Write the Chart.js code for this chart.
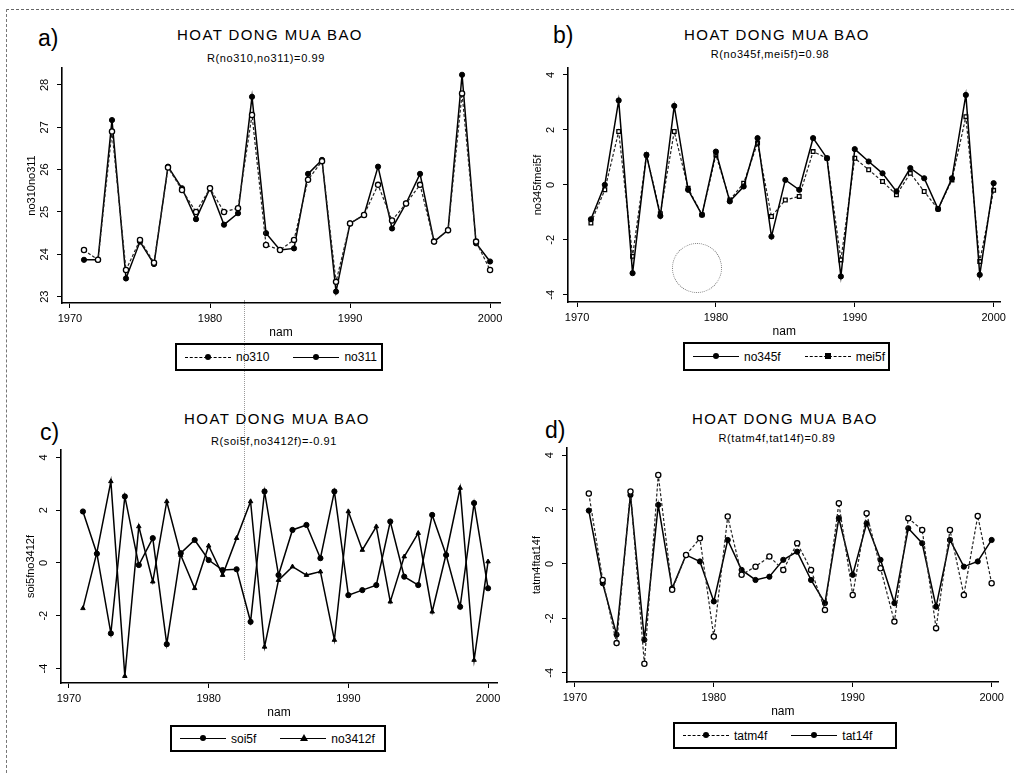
<!DOCTYPE html>
<html>
<head>
<meta charset="utf-8">
<title>HOAT DONG MUA BAO</title>
<script src="https://cdn.jsdelivr.net/npm/chart.js@4.4.1/dist/chart.umd.min.js"></script>
<style>
  body { margin: 0; background: #fff; }
  #page { position: relative; width: 1014px; height: 773px; overflow: hidden; background: #fff;
          font-family: "Liberation Sans", Arial, sans-serif; color: #000; }
  #page canvas { position: absolute; }
  .frame { position: absolute; left: 6px; top: 9px; right: -10px; bottom: -10px;
           border-top: 1px dashed #666; border-left: 1px dashed #777; }
  .crease { position: absolute; left: 244px; top: 300px; width: 0; height: 360px; border-left: 1px dotted #999; }
  .hole { position: absolute; left: 672px; top: 243px; width: 48px; height: 48px; border: 1px dotted #777; border-radius: 50%; }
  .lbl { position: absolute; font-size: 23px; line-height: 1; }
  .ttl { position: absolute; width: 320px; margin-left: -160px; text-align: center; font-size: 15px; letter-spacing: 1.4px; line-height: 1; }
  .sub { position: absolute; width: 320px; margin-left: -160px; text-align: center; font-size: 11px; letter-spacing: 0.6px; line-height: 1; }
  .leg { position: absolute; border: 2px solid #000; box-sizing: border-box; display: flex; align-items: center; font-size: 12px; }
  .key { display: inline-block; position: relative; width: 46px; height: 0; border-top: 1px solid #000; margin: 0 5px 0 8px; }
  .key.dash { border-top: 1px dashed #000; }
  .key i { position: absolute; left: 20px; top: -4px; width: 6px; height: 6px; background: #000; border-radius: 50%; }
  .key i.sq { border-radius: 0; }
  .key i.tri { width: 0; height: 0; top: -5px; background: none; border-radius: 0;
               border-left: 4px solid transparent; border-right: 4px solid transparent; border-bottom: 7px solid #000; }
  .gap { width: 16px; }
</style>
</head>
<body>
<div id="page">
  <div class="frame"></div>
  <div class="crease"></div>
  <div class="hole"></div>

  <div class="lbl" style="left:38px;top:27px">a)</div>
  <div class="ttl" style="left:270px;top:27px">HOAT DONG MUA BAO</div>
  <div class="sub" style="left:266px;top:53px">R(no310,no311)=0.99</div>
  <div class="leg" style="left:175px;top:343px;width:208px;height:28px">
    <span class="key dash"><i></i></span>no310<span class="gap"></span><span class="key"><i></i></span>no311
  </div>

  <div class="lbl" style="left:553px;top:24px">b)</div>
  <div class="ttl" style="left:777px;top:27px">HOAT DONG MUA BAO</div>
  <div class="sub" style="left:770px;top:49px">R(no345f,mei5f)=0.98</div>
  <div class="leg" style="left:683px;top:342px;width:207px;height:29px">
    <span class="key"><i></i></span>no345f<span class="gap"></span><span class="key dash"><i class="sq"></i></span>mei5f
  </div>

  <div class="lbl" style="left:40px;top:421px">c)</div>
  <div class="ttl" style="left:277px;top:411px">HOAT DONG MUA BAO</div>
  <div class="sub" style="left:274px;top:436px">R(soi5f,no3412f)=-0.91</div>
  <div class="leg" style="left:170px;top:725px;width:216px;height:27px">
    <span class="key"><i></i></span>soi5f<span class="gap"></span><span class="key"><i class="tri"></i></span>no3412f
  </div>

  <div class="lbl" style="left:545px;top:419px">d)</div>
  <div class="ttl" style="left:785px;top:411px">HOAT DONG MUA BAO</div>
  <div class="sub" style="left:777px;top:433px">R(tatm4f,tat14f)=0.89</div>
  <div class="leg" style="left:673px;top:722px;width:224px;height:27px">
    <span class="key dash"><i></i></span>tatm4f<span class="gap"></span><span class="key"><i></i></span>tat14f
  </div>
</div>

<script>
  "use strict";

  // years on the x axis
  var years = [1971, 1972, 1973, 1974, 1975, 1976, 1977, 1978, 1979, 1980,
               1981, 1982, 1983, 1984, 1985, 1986, 1987, 1988, 1989, 1990,
               1991, 1992, 1993, 1994, 1995, 1996, 1997, 1998, 1999, 2000];
  var xTicks = [1970, 1980, 1990, 2000];

  // a)
  var no310 = [24.10, 23.87, 26.90, 23.63, 24.34, 23.80, 26.05, 25.52, 25.00, 25.56,
               25.00, 25.09, 27.29, 24.22, 24.10, 24.34, 25.76, 26.20, 23.35, 24.73,
               24.93, 25.64, 24.80, 25.20, 25.64, 24.30, 24.57, 27.80, 24.30, 23.63];
  var no311 = [23.87, 23.87, 27.17, 23.43, 24.30, 23.77, 26.07, 25.56, 24.83, 25.56,
               24.70, 24.97, 27.72, 24.50, 24.10, 24.14, 25.90, 26.23, 23.12, 24.73,
               24.93, 26.07, 24.61, 25.20, 25.90, 24.30, 24.57, 28.24, 24.26, 23.83];
  var yTicksA = [23, 24, 25, 26, 27, 28];

  // b)
  var no345f = [-1.25, 0.00, 3.07, -3.21, 1.09, -1.13, 2.87, -0.18, -1.09, 1.21,
                -0.60, -0.06, 1.70, -1.88, 0.18, -0.18, 1.70, 0.97, -3.33, 1.30,
                0.85, 0.42, -0.24, 0.61, 0.24, -0.88, 0.24, 3.27, -3.27, 0.06];
  var mei5f = [-1.39, -0.18, 1.94, -2.60, 1.09, -1.05, 1.94, -0.12, -1.09, 1.09,
               -0.55, 0.06, 1.52, -1.15, -0.55, -0.42, 1.21, 0.97, -2.73, 0.97,
               0.55, 0.12, -0.36, 0.42, -0.24, -0.88, 0.18, 2.48, -2.79, -0.20];

  // c)
  var soi5f = [1.95, 0.35, -2.67, 2.52, -0.08, 0.94, -3.08, 0.37, 0.87, 0.11,
               -0.27, -0.24, -2.23, 2.71, -0.46, 1.25, 1.44, 0.18, 2.71, -1.22,
               -1.03, -0.84, 1.57, -0.52, -0.84, 1.82, 0.30, -1.66, 2.27, -0.96];
  var no3412f = [-1.72, 0.40, 3.09, -4.29, 1.38, -0.71, 2.33, 0.30, -0.96, 0.65,
                 -0.46, 0.94, 2.33, -3.18, -0.65, -0.14, -0.46, -0.33, -2.92, 1.95,
                 0.49, 1.38, -1.47, 0.24, 1.13, -1.85, 0.34, 2.84, -3.68, 0.05];

  // d)
  var tatm4f = [2.59, -0.59, -2.91, 2.66, -3.67, 3.27, -0.95, 0.33, 0.94, -2.67,
                1.74, -0.40, -0.10, 0.27, -0.22, 0.76, -0.22, -1.69, 2.23, -1.14,
                1.86, -0.16, -2.12, 1.68, 1.25, -2.36, 1.25, -1.14, 1.76, -0.71];
  var tat14f = [1.96, -0.71, -2.60, 2.53, -2.79, 2.17, -0.90, 0.33, 0.09, -1.38,
                0.88, -0.22, -0.59, -0.47, 0.15, 0.45, -0.59, -1.44, 1.68, -0.40,
                1.49, 0.15, -1.44, 1.31, 0.76, -1.57, 0.88, -0.10, 0.09, 0.88];
  var yTicksAnom = [-4, -2, 0, 2, 4];

  var fontFamily = "'Liberation Sans', Arial, sans-serif";

  var toPoints = function(vals) {
    return years.map(function(yr, i) { return { x: yr, y: vals[i] }; });
  };

  var solid = function(label, vals, style) {
    return {
      label: label, data: toPoints(vals),
      borderColor: "#000", borderWidth: 1.5, backgroundColor: "#000",
      pointStyle: style || "circle", pointRadius: 2.6, pointBorderWidth: 1,
      pointBackgroundColor: "#000", pointBorderColor: "#000", tension: 0
    };
  };

  var dashed = function(label, vals, style) {
    return {
      label: label, data: toPoints(vals),
      borderColor: "#222", borderWidth: 1.2, borderDash: [3, 2], backgroundColor: "#fff",
      pointStyle: style || "circle", pointRadius: 2.6, pointBorderWidth: 1.3,
      pointBackgroundColor: "#fff", pointBorderColor: "#000", tension: 0
    };
  };

  // y tick labels stand on their side, read bottom to top
  var sideways = {
    id: "sideways",
    afterDraw: function(chart) {
      var s = chart.scales.y, ctx = chart.ctx;
      ctx.save();
      ctx.font = "11px " + fontFamily;
      ctx.fillStyle = "#000";
      ctx.textAlign = "center";
      ctx.textBaseline = "middle";
      s.ticks.forEach(function(t) {
        ctx.save();
        ctx.translate(s.right - 17, s.getPixelForValue(t.value));
        ctx.rotate(-Math.PI / 2);
        ctx.fillText(String(t.value), 0, 0);
        ctx.restore();
      });
      ctx.restore();
    }
  };

  var makePanel = function(p) {
    var page = document.getElementById("page");
    var cv = document.createElement("canvas");
    var w = p.R - p.L + 48 + 8, h = p.B - p.T + 6 + 42;
    cv.width = w; cv.height = h;
    cv.style.left = (p.L - 48) + "px";
    cv.style.top = (p.T - 6) + "px";
    page.appendChild(cv);

    var tickFont = { family: fontFamily, size: 11 };
    var axisBorder = { display: true, color: "#000", width: 1.6 };
    var grid = { drawOnChartArea: false, drawTicks: true, tickLength: 5, color: "#000" };

    new Chart(cv, {
      type: "line",
      data: { datasets: p.datasets },
      plugins: [sideways],
      options: {
        responsive: false,
        animation: false,
        layout: { padding: { top: 6, right: 8, left: 0, bottom: 0 } },
        plugins: { legend: { display: false }, tooltip: { enabled: false }, title: { display: false } },
        scales: {
          x: {
            type: "linear", min: p.xMin, max: p.xMax,
            border: axisBorder, grid: grid,
            afterBuildTicks: function(s) { s.ticks = xTicks.map(function(v) { return { value: v }; }); },
            afterFit: function(s) { s.height = 42; },
            ticks: { color: "#000", font: tickFont, padding: 4, maxRotation: 0,
                     callback: function(v) { return String(v); } },
            title: { display: true, text: "nam", color: "#000", padding: { top: 0, bottom: 5 },
                     font: { family: fontFamily, size: 12 } }
          },
          y: {
            type: "linear", min: p.yMin, max: p.yMax,
            border: axisBorder, grid: grid,
            afterBuildTicks: function(s) { s.ticks = p.yTicks.map(function(v) { return { value: v }; }); },
            afterFit: function(s) { s.width = 48; },
            ticks: { display: false },
            title: { display: true, text: p.yTitle, color: "#000", padding: { top: 11, bottom: 0 },
                     font: { family: fontFamily, size: 11 } }
          }
        }
      }
    });
  };

  makePanel({ L: 62, R: 500, T: 68, B: 303, xMin: 1969.43, xMax: 2000.71,
              yMin: 22.85, yMax: 28.4, yTicks: yTicksA, yTitle: "no310no311",
              datasets: [dashed("no310", no310), solid("no311", no311)] });

  makePanel({ L: 568, R: 1002, T: 68, B: 302, xMin: 1969.35, xMax: 2000.5,
              yMin: -4.26, yMax: 4.25, yTicks: yTicksAnom, yTitle: "no345fmei5f",
              datasets: [solid("no345f", no345f), dashed("mei5f", mei5f, "rect")] });

  makePanel({ L: 61, R: 497, T: 450, B: 683, xMin: 1969.43, xMax: 2000.64,
              yMin: -4.55, yMax: 4.28, yTicks: yTicksAnom, yTitle: "soi5fno3412f",
              datasets: [solid("soi5f", soi5f), solid("no3412f", no3412f, "triangle")] });

  makePanel({ L: 567, R: 1000, T: 448, B: 682, xMin: 1969.43, xMax: 2000.51,
              yMin: -4.34, yMax: 4.26, yTicks: yTicksAnom, yTitle: "tatm4ftat14f",
              datasets: [dashed("tatm4f", tatm4f), solid("tat14f", tat14f)] });
</script>
</body>
</html>
